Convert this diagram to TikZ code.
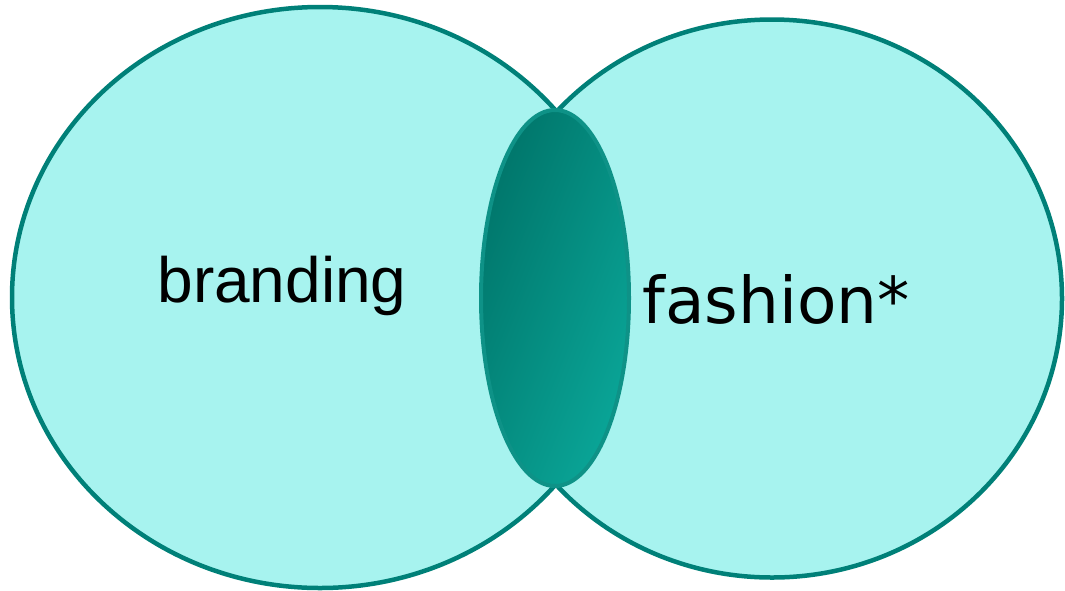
\documentclass[tikz,border=0pt]{standalone}
\usepackage{fontspec}
\setmainfont{Liberation Sans}
\newfontfamily\dvsans{DejaVu Sans}
\definecolor{setfill}{HTML}{A7F3EF}
\definecolor{setline}{HTML}{008078}
\definecolor{lensdark}{HTML}{00756A}
\definecolor{lenslight}{HTML}{0AA698}
\definecolor{lensline}{HTML}{0E9287}
\tikzset{
  setshape/.style={ellipse, fill=setfill, draw=setline, line width=4.5pt, inner sep=0pt},
  lensshape/.style={ellipse, draw=lensline, line width=4pt, inner sep=0pt,
    left color=lensdark, right color=lenslight, shading angle=68},
  setlabel/.style={font=\fontsize{64}{70}\selectfont, text=black, inner sep=0pt}
}
\usetikzlibrary{shapes.geometric}
\begin{document}
\begin{tikzpicture}[x=1pt,y=-1pt]
\useasboundingbox (0,0) rectangle (1065,590);
\node[setshape, minimum width=616pt, minimum height=581pt] (left) at (320,297.5) {};
\node[setshape, minimum width=580pt, minimum height=558pt] (right) at (772,298.5) {};
\node[lensshape, minimum width=148pt, minimum height=376pt] (lens) at (555,298) {};
\node[setlabel, anchor=base] (branding) at (282,302) {branding};
\node[setlabel, anchor=base, font=\dvsans\fontsize{64.5}{70}\selectfont] (fashion) at (776,323) {fashion*};
\end{tikzpicture}
\end{document}
